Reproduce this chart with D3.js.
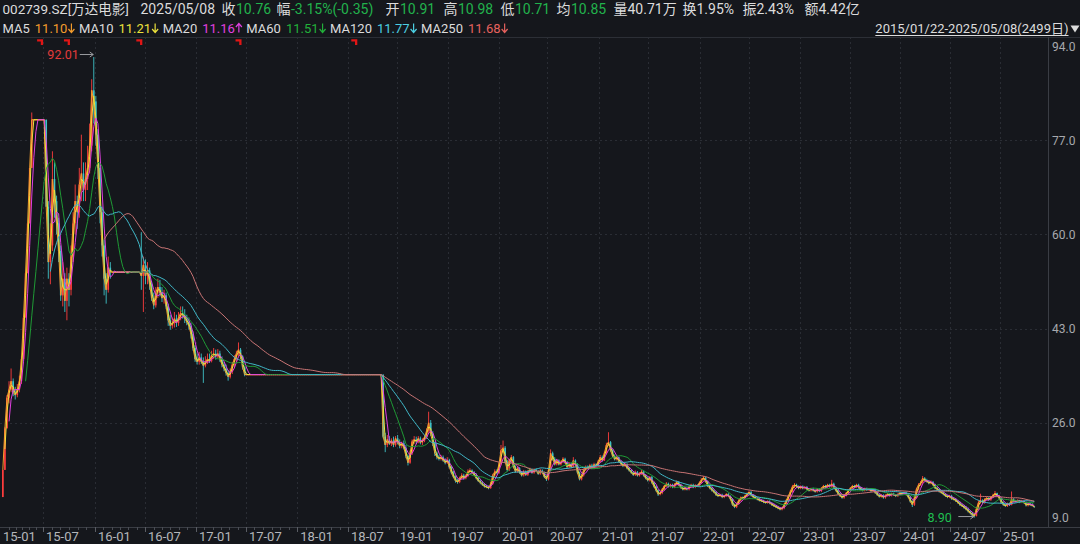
<!DOCTYPE html>
<html><head><meta charset="utf-8">
<script src="https://cdn.jsdelivr.net/npm/d3@7"></script>
<style>html,body{margin:0;padding:0;background:#15171c;overflow:hidden}svg{display:block}</style>
</head><body><svg id="c" width="1080" height="544"></svg>
<script>
// ---------- DATA (weekly candles, 5 trading days each) ----------
const opens=[
12.6,17.5,25,30.5,32,33.5,31.5,31,32,33.5,
37.5,45,53,62,72,80.7,80.7,80.7,80.7,80.7,
80.7,80.7,65,55,58,70,66,62,57,49,
52,48,52,50,56,62,66,64,69,71,
68,70,72,76,86,84,78,72,64,58,
52,50,54,53.2,53.2,53.2,53.2,53.2,53.2,53.2,
53.2,53.2,53.2,53.2,53.2,53.2,53.2,53.2,52.5,54.5,
52.5,53.5,51,48.5,47.2,49.5,50.5,49.5,48.5,49,
47,44.5,43.5,44,44.8,44,45,45.8,45.5,44.8,
44.2,43.5,42,39.5,37.5,37,37.8,37,36.3,37,
37.5,37.2,38.2,38.5,38,38.5,37.5,36.5,35.8,35,
34.3,35.2,36.5,37.5,38.5,39.2,38,36,34.7,34.7,
34.7,34.7,34.7,34.7,34.7,34.7,34.7,34.7,34.7,34.7,
34.7,34.7,34.7,34.7,34.7,34.7,34.7,34.7,34.7,34.7,
34.7,34.7,34.7,34.7,34.7,34.7,34.7,34.7,34.7,34.7,
34.7,34.7,34.7,34.7,34.7,34.7,34.7,34.7,34.7,34.7,
34.7,34.7,34.7,34.7,34.7,34.7,34.7,34.7,34.7,34.7,
34.7,34.7,34.7,34.7,34.7,34.7,34.7,34.7,34.7,34.7,
34.7,34.7,34.7,34.7,34.7,23.5,22,23,22.2,22.8,
22,23.2,22.5,21.8,22.3,21.5,20,18.8,20.5,22.6,
23,22.6,23.2,22.4,22.8,23.4,24.5,26,24,22.3,
20.5,19.8,19.5,19.8,19.2,18.8,19.3,18,17,16.2,
15.5,15.3,16,16.5,16,16.4,17.2,17.4,17,16.6,
16,15.5,15.2,14.8,14.5,14.4,14.2,15,16.5,17.2,
17,18.5,21,21.5,19,17.5,19.2,19.8,18,17.2,
17.8,17,16.5,17.2,16.6,17.2,17.6,17,17.5,17.3,
16.8,17.4,17,16.2,15.8,17.5,20.5,19.5,18.5,19.2,
18.5,18.9,19.5,18.8,18,18.6,18,19.2,18.5,17,
15.8,16.5,17.5,18,17.8,18.3,17.8,18.5,18.2,19,
19.8,19.2,20.5,22,22.5,21,20,19.4,19.8,19,
18.6,18.2,18.5,17.8,17.4,17,16.6,17.1,16.5,16.8,
17.2,16.5,16,15.6,16.2,15.2,14.5,13.8,13.1,13.3,
14,14.6,15,14.5,14.8,14.4,14.9,15.3,14.8,14.3,
14,14.2,14,14.5,14.8,14.4,14.7,14.6,15.2,15.8,
16.1,15.4,14.6,14.2,13.8,13.5,13,12.8,13,12.6,
12.8,13.1,12.8,12.2,11.2,10.8,11.4,12,12.5,12.4,
12.8,13.2,13.5,12.9,12.6,12.4,12.2,12,11.9,11.7,
11.6,11.8,11.5,11.2,11,10.8,10.6,10.4,10.6,11.3,
12,12.8,13.6,14.5,14.8,14.5,14.2,14.5,14.2,14.4,
14,13.8,14.1,13.8,13.6,14,13.7,14.2,14.6,14.4,
14.8,14.5,15,14.3,13.8,13.2,12.8,12.5,12.9,13.3,
13.8,14.2,14.6,14.4,14.8,14.3,14,13.8,14.1,13.9,
14,13.7,13.9,13.4,13,12.7,12.9,12.5,12.9,13.1,
12.9,13.2,13,12.8,13.1,13.3,13.2,13.4,13.1,12.6,
11.8,11.2,12.5,14,14.8,15.2,16,15.6,15.4,15.1,
15.3,14.8,14.2,14,13.6,13.4,13.1,12.8,12.6,12.8,
12.3,12.2,11.9,11.6,11.2,11,10.7,10.4,10,9.7,
9.4,9.2,10.5,11.6,12,11.6,12.2,12.4,12.1,12.6,
12.9,13.3,12.8,12.4,11.6,11.2,11,11.4,11.2,12.2,
11.9,11.8,12,11.7,11.9,11.6,11.1,11.4,11.2,10.91];
const highs=[
17.5,25.2,31,33.5,35.8,34,32.5,33,34.5,38,
45,53,62,72,82,80.7,80.7,80.7,80.7,80.7,
80.7,80.7,66,62,75,73,67,63,58,55,
53,54,53,58,64,69,67,72,78,73,
73,76,80,88,92.01,85,79,73,65,59,
53,56,55,53.2,53.2,53.2,53.2,53.2,53.2,53.2,
53.2,53.2,53.2,53.2,53.2,53.2,53.2,60.4,56,55.5,
55,54,51.5,49.5,50.5,52,51.8,50.5,50,49.5,
47.5,45.5,45,46,45.5,46,47,47,46.5,45.5,
45,44,42.5,40,38.5,38.8,38.5,37.8,38,38.5,
38.5,39,39.5,39.2,39.3,39,38,37,36.5,35.5,
35.8,37,38.2,39,40.5,39.5,38.2,36.2,34.7,34.7,
34.7,34.7,34.7,34.7,34.7,34.7,34.7,34.7,34.7,34.7,
34.7,34.7,34.7,34.7,34.7,34.7,34.7,34.7,34.7,34.7,
34.7,34.7,34.7,34.7,34.7,34.7,34.7,34.7,34.7,34.7,
34.7,34.7,34.7,34.7,34.7,34.7,34.7,34.7,34.7,34.7,
34.7,34.7,34.7,34.7,34.7,34.7,34.7,34.7,34.7,34.7,
34.7,34.7,34.7,34.7,34.7,34.7,34.7,34.7,34.7,34.7,
34.7,34.7,34.7,34.7,34.7,24.2,23.8,23.6,23.2,23.5,
23.6,23.8,23,22.6,22.8,22,20.3,21,23,23.6,
23.5,23.6,23.5,23.2,23.8,25,28,26.5,24.5,22.6,
20.8,20.2,20.2,20.1,19.6,19.8,19.5,18.3,17.3,16.5,
15.9,16.3,16.9,16.8,16.7,17.6,17.8,17.6,17.3,16.9,
16.3,15.8,15.5,15.1,14.8,14.7,15.3,16.8,17.6,17.6,
18.8,22,22.8,21.8,19.3,19.5,20.2,20,18.3,18.1,
18,17.3,17.5,17.4,17.5,17.9,17.8,17.8,17.8,17.5,
17.7,17.6,17.2,16.5,17.8,21.2,20.8,19.8,19.5,19.4,
19.2,19.8,19.7,19.1,18.9,18.8,19.8,19.4,18.7,17.2,
16.8,17.8,18.3,18.3,18.6,18.6,18.8,18.7,19.3,20.2,
20.1,20.8,22.4,24.3,22.7,21.2,20.3,20.1,19.9,19.3,
18.9,18.8,18.7,18,17.6,17.3,17.4,17.3,17.1,17.5,
17.4,16.7,16.3,16.4,16.4,15.4,14.7,14,13.6,14.2,
14.8,15.3,15.2,15,15,15.1,15.6,15.5,15,14.5,
14.4,14.4,14.7,15,15,14.9,14.9,15.4,16,16.4,
16.3,15.6,14.8,14.4,14,13.7,13.2,13.2,13.2,13,
13.3,13.3,12.9,12.4,11.4,11.6,12.2,12.7,12.7,13,
13.4,13.8,13.7,13.1,12.8,12.6,12.4,12.2,12.1,11.9,
12,12,11.7,11.4,11.2,11,10.8,10.8,11.5,12.2,
13,13.9,14.8,15.1,15,14.7,14.7,14.7,14.6,14.6,
14.2,14.3,14.3,14,14.2,14.2,14.4,14.8,14.8,15,
15,15.7,15.2,14.5,14,13.4,13,13.1,13.5,14,
14.4,14.8,14.8,15,15,14.5,14.2,14.3,14.3,14.2,
14.2,14.1,14.1,13.6,13.2,13.1,13.1,13.1,13.3,13.3,
13.4,13.4,13.1,13.3,13.5,13.5,13.6,13.6,13.3,12.8,
12,12.8,14.3,15.1,15.5,16.4,16.2,15.9,15.6,15.6,
15.5,15,14.4,14.2,13.8,13.6,13.3,13,13,13,
12.6,12.4,12.1,11.8,11.4,11.2,11,10.7,10.2,9.9,
9.6,10.8,12,13.2,12.2,12.4,12.7,12.6,12.8,13.2,
13.7,13.4,13,12.5,11.8,11.4,11.6,11.6,13.6,12.4,
12.1,12.2,12.1,12.1,12,11.8,11.5,11.6,11.5,10.98];
const lows=[
12.6,17.5,25,29.5,31.5,30.8,30.2,30.6,31.5,33,
37.5,45,53,62,72,80.7,80.7,80.7,80.7,80.7,
80.7,65,52,51,57,63,60,55,48,47,
46,44.5,47,49,55,60,61,63,66,66,
66,68,71,75,80,76,70,62,56,49,
47.5,49.5,52,53.2,53.2,53.2,53.2,53.2,53.2,53.2,
53.2,53.2,53.2,53.2,53.2,53.2,53.2,50,46,51,
51,50,48,46.5,46.8,48.5,48.8,47.8,47.5,46.5,
43.5,42.8,43,43.2,43.3,43.5,44.5,44.8,44,43.6,
42.8,41.2,39,37,36.5,36.5,36.6,33.2,36,36.6,
36.8,36.9,37.5,37.4,37.6,37,36,35.3,34.5,33.6,
34,34.8,36,37,38,37.5,35.6,34.4,34.7,34.7,
34.7,34.7,34.7,34.7,34.7,34.7,34.7,34.7,34.7,34.7,
34.7,34.7,34.7,34.7,34.7,34.7,34.7,34.7,34.7,34.7,
34.7,34.7,34.7,34.7,34.7,34.7,34.7,34.7,34.7,34.7,
34.7,34.7,34.7,34.7,34.7,34.7,34.7,34.7,34.7,34.7,
34.7,34.7,34.7,34.7,34.7,34.7,34.7,34.7,34.7,34.7,
34.7,34.7,34.7,34.7,34.7,34.7,34.7,34.7,34.7,34.7,
34.7,34.7,34.7,34.7,23.2,20.7,21.6,22,21.8,21.6,
21.7,22.1,21.4,21.4,21.2,19.6,18.3,18.6,20.2,22.2,
22.2,22.3,22.1,22,22.5,23.1,24.2,23.6,21.8,20,
19.4,19.2,19.2,19,18.5,18.6,17.8,16.7,16,15.2,
15,15.1,15.8,15.7,15.8,16.2,17,16.8,16.4,15.8,
15.3,14.9,14.6,14.3,14.2,14,14.1,14.8,16.2,16.7,
16.8,18.3,20.6,18.7,17.2,17.3,18.9,17.8,17,17,
16.8,16.3,16.3,16.4,16.4,17,16.8,16.8,17.1,16.6,
16.6,16.8,16,15.5,15.6,17.3,19.2,18.3,18.3,18.3,
18.3,18.7,18.6,17.8,17.8,17.8,17.9,18.3,16.8,15.6,
15.6,16.3,17.3,17.6,17.6,17.6,17.6,18,18,18.8,
19,19.1,20.3,21.8,20.8,19.8,19.2,19.2,18.8,18.4,
18,18,17.6,17.2,16.8,16.4,16.4,16.3,16.3,16.6,
16.3,15.8,15.4,15.4,15,14.3,13.6,12.8,12.9,13.1,
13.8,14.4,14.3,14.3,14.2,14.2,14.7,14.6,14.1,13.8,
13.8,13.8,13.8,14.3,14.2,14.2,14.4,14.4,15,15.6,
15.2,14.4,14,13.6,13.3,12.8,12.6,12.6,12.4,12.4,
12.6,12.6,12,11,10.6,10.6,11.2,11.8,12.2,12.2,
12.6,13,12.7,12.4,12.2,12,11.8,11.7,11.5,11.4,
11.4,11.3,11,10.8,10.6,10.4,10.2,10.2,10.4,11.1,
11.8,12.6,13.4,14.2,14.2,14,14,14,14,13.8,
13.6,13.6,13.6,13.4,13.4,13.5,13.5,14,14.2,14.2,
14.3,14.3,14.1,13.6,13,12.6,12.3,12.3,12.7,13.1,
13.6,14,14.2,14.2,14.1,13.8,13.6,13.6,13.7,13.7,
13.5,13.5,13.2,12.8,12.5,12.5,12.3,12.3,12.7,12.7,
12.7,12.8,12.6,12.6,12.9,13,13,12.9,12.4,11.6,
10.8,11,12.3,13.8,14.6,15,15.4,15.2,14.9,14.9,
14.6,14,13.8,13.4,13.2,12.9,12.6,12.4,12.4,12.1,
12,11.7,11.4,11,10.8,10.5,10.2,9.8,9.5,9.2,
8.9,9.1,10.3,11.4,11.4,11.4,12,11.9,11.9,12.4,
12.7,12.6,12.2,11.4,11,10.8,10.8,11,11.1,11.7,
11.6,11.6,11.5,11.5,11.4,10.9,10.9,11,10.9,10.71];
const closes=[
17.5,25,30.5,32,33.5,31.5,31,32,33.5,37.5,
45,53,62,72,80.7,80.7,80.7,80.7,80.7,80.7,
80.7,65,55,58,70,66,62,57,49,52,
48,52,50,56,62,66,64,69,71,68,
70,72,76,86,84,78,72,64,58,52,
50,54,53.2,53.2,53.2,53.2,53.2,53.2,53.2,53.2,
53.2,53.2,53.2,53.2,53.2,53.2,53.2,52.5,54.5,52.5,
53.5,51,48.5,47.2,49.5,50.5,49.5,48.5,49,47,
44.5,43.5,44,44.8,44,45,45.8,45.5,44.8,44.2,
43.5,42,39.5,37.5,37,37.8,37,36.3,37,37.5,
37.2,38.2,38.5,38,38.5,37.5,36.5,35.8,35,34.3,
35.2,36.5,37.5,38.5,39.2,38,36,34.7,34.7,34.7,
34.7,34.7,34.7,34.7,34.7,34.7,34.7,34.7,34.7,34.7,
34.7,34.7,34.7,34.7,34.7,34.7,34.7,34.7,34.7,34.7,
34.7,34.7,34.7,34.7,34.7,34.7,34.7,34.7,34.7,34.7,
34.7,34.7,34.7,34.7,34.7,34.7,34.7,34.7,34.7,34.7,
34.7,34.7,34.7,34.7,34.7,34.7,34.7,34.7,34.7,34.7,
34.7,34.7,34.7,34.7,34.7,34.7,34.7,34.7,34.7,34.7,
34.7,34.7,34.7,34.7,23.5,22,23,22.2,22.8,22,
23.2,22.5,21.8,22.3,21.5,20,18.8,20.5,22.6,23,
22.6,23.2,22.4,22.8,23.4,24.5,26,24,22.3,20.5,
19.8,19.5,19.8,19.2,18.8,19.3,18,17,16.2,15.5,
15.3,16,16.5,16,16.4,17.2,17.4,17,16.6,16,
15.5,15.2,14.8,14.5,14.4,14.2,15,16.5,17.2,17,
18.5,21,21.5,19,17.5,19.2,19.8,18,17.2,17.8,
17,16.5,17.2,16.6,17.2,17.6,17,17.5,17.3,16.8,
17.4,17,16.2,15.8,17.5,20.5,19.5,18.5,19.2,18.5,
18.9,19.5,18.8,18,18.6,18,19.2,18.5,17,15.8,
16.5,17.5,18,17.8,18.3,17.8,18.5,18.2,19,19.8,
19.2,20.5,22,22.5,21,20,19.4,19.8,19,18.6,
18.2,18.5,17.8,17.4,17,16.6,17.1,16.5,16.8,17.2,
16.5,16,15.6,16.2,15.2,14.5,13.8,13.1,13.3,14,
14.6,15,14.5,14.8,14.4,14.9,15.3,14.8,14.3,14,
14.2,14,14.5,14.8,14.4,14.7,14.6,15.2,15.8,16.1,
15.4,14.6,14.2,13.8,13.5,13,12.8,13,12.6,12.8,
13.1,12.8,12.2,11.2,10.8,11.4,12,12.5,12.4,12.8,
13.2,13.5,12.9,12.6,12.4,12.2,12,11.9,11.7,11.6,
11.8,11.5,11.2,11,10.8,10.6,10.4,10.6,11.3,12,
12.8,13.6,14.5,14.8,14.5,14.2,14.5,14.2,14.4,14,
13.8,14.1,13.8,13.6,14,13.7,14.2,14.6,14.4,14.8,
14.5,15,14.3,13.8,13.2,12.8,12.5,12.9,13.3,13.8,
14.2,14.6,14.4,14.8,14.3,14,13.8,14.1,13.9,14,
13.7,13.9,13.4,13,12.7,12.9,12.5,12.9,13.1,12.9,
13.2,13,12.8,13.1,13.3,13.2,13.4,13.1,12.6,11.8,
11.2,12.5,14,14.8,15.2,16,15.6,15.4,15.1,15.3,
14.8,14.2,14,13.6,13.4,13.1,12.8,12.6,12.8,12.3,
12.2,11.9,11.6,11.2,11,10.7,10.4,10,9.7,9.4,
9.2,10.5,11.6,12,11.6,12.2,12.4,12.1,12.6,12.9,
13.3,12.8,12.4,11.6,11.2,11,11.4,11.2,12.2,11.9,
11.8,12,11.7,11.9,11.6,11.1,11.4,11.2,11.1,10.76];

const totalDays=2499, daysPerCandle=5;
const tickLabels=["15-01","15-07","16-01","16-07","17-01","17-07","18-01","18-07","19-01","19-07","20-01","20-07","21-01","21-07","22-01","22-07","23-01","23-07","24-01","24-07","25-01"];
const tickDays=[0,99,225,346,469,590,714,837,955,1079,1202,1318,1444,1563,1688,1807,1930,2051,2172,2293,2414];
const priceTicks=[9,26,43,60,77,94];
const maPeriods=[5,10,20,60,120,250];
const maTextColors=["#f39c2c","#ece23c","#e040e0","#22b03a","#4ccfe2","#e5625e"];
const maLineColors=["#f39c2c","#ece23c","#e040e0","#1f9a35","#40b8c8","#c87474"];
const maValues=["11.10","11.21","11.16","11.51","11.77","11.68"];
const maTrend=["down","down","up","down","down","down"];
const flagCandles=[19,32,67,115,171];
const stockName="002739.SZ[万达电影]", quoteDate="2025/05/08";
const quoteLabels=["收","幅","开","高","低","均"];
const quoteValues=["10.76","-3.15%(-0.35)","10.91","10.98","10.71","10.85"];
const statLabels=["量","换","振","额"];
const statValues=["40.71万","1.95%","2.43%","4.42亿"];
const rangeText="2015/01/22-2025/05/08(2499日)";

// ---------- DRAW ----------
const svg=d3.select("#c");
const FONT="Roboto,'Noto Sans CJK SC',sans-serif";
const txt="#dcdcdc", green="#22b24c", up="#ff3d3d", down="#3fc3c8";
const plotTop=37, axisY=527, axisX=1048;
const x=d3.scaleLinear().domain([0,totalDays-1]).range([2,1034.7]);
const y=d3.scaleLinear().domain([9,94]).range([517,46]);
const cx=i=>x(i*daysPerCandle+2);

svg.append("rect").attr("width",1080).attr("height",544).attr("fill","#15171c");
svg.append("defs").append("clipPath").attr("id","clip").append("rect")
  .attr("x",0).attr("y",plotTop+1).attr("width",axisX).attr("height",axisY-plotTop-1);

// grid
svg.append("g").selectAll("line").data(priceTicks.slice(1,-1)).join("line")
  .attr("x1",0).attr("x2",axisX).attr("y1",d=>Math.round(y(d))+0.5).attr("y2",d=>Math.round(y(d))+0.5)
  .attr("stroke","#2a2d34").attr("stroke-dasharray","2,3");
svg.append("g").selectAll("line").data(tickDays.slice(1)).join("line")
  .attr("x1",d=>Math.round(x(d))+0.5).attr("x2",d=>Math.round(x(d))+0.5).attr("y1",plotTop).attr("y2",axisY)
  .attr("stroke","#2a2d34").attr("stroke-dasharray","2,3");

// frame lines
svg.append("line").attr("x1",0).attr("x2",1080).attr("y1",plotTop+0.5).attr("y2",plotTop+0.5).attr("stroke","#2c2f36");
svg.append("line").attr("x1",0).attr("x2",1080).attr("y1",axisY+0.5).attr("y2",axisY+0.5).attr("stroke","#3a3d44");
svg.append("line").attr("x1",axisX+0.5).attr("x2",axisX+0.5).attr("y1",plotTop).attr("y2",axisY).attr("stroke","#3a3d44");

// y labels
svg.append("g").selectAll("text").data(priceTicks).join("text")
  .attr("x",axisX+4).attr("y",d=>y(d)+4.5).text(d=>d.toFixed(1))
  .attr("font-family",FONT).attr("font-size",12).attr("fill","#a7a9ad");

// x ticks & labels
const monthTicks=[];
for(let k=0;k<tickDays.length-1;k++){for(let m=1;m<6;m++){monthTicks.push(tickDays[k]+(tickDays[k+1]-tickDays[k])*m/6);}}
svg.append("g").selectAll("line").data(monthTicks).join("line")
  .attr("x1",d=>Math.round(x(d))+0.5).attr("x2",d=>Math.round(x(d))+0.5).attr("y1",axisY).attr("y2",axisY+3)
  .attr("stroke","#4a4d54");
svg.append("g").selectAll("line").data(tickDays.slice(1)).join("line")
  .attr("x1",d=>Math.round(x(d))+0.5).attr("x2",d=>Math.round(x(d))+0.5).attr("y1",axisY).attr("y2",axisY+5)
  .attr("stroke","#5a5d64");
svg.append("g").selectAll("text").data(tickDays).join("text")
  .attr("x",(d,i)=>i===0?3:x(d)+3).attr("y",541).text((d,i)=>tickLabels[i])
  .attr("font-family",FONT).attr("font-size",13).attr("fill","#b4b6ba");

// candles
const candles=closes.map((c,i)=>({i,o:opens[i],h:highs[i],l:lows[i],c}));
const col=d=>d.c>=d.o?up:down;
const cg=svg.append("g").attr("clip-path","url(#clip)");
cg.selectAll("line.w").data(candles).join("line").attr("class","w")
  .attr("x1",d=>cx(d.i)).attr("x2",d=>cx(d.i))
  .attr("y1",d=>y(Math.max(d.h,d.o,d.c))).attr("y2",d=>y(Math.min(d.l,d.o,d.c)))
  .attr("stroke",col).attr("stroke-width",0.9);
cg.selectAll("rect.b").data(candles).join("rect").attr("class","b")
  .attr("x",d=>cx(d.i)-0.8).attr("width",1.6)
  .attr("y",d=>y(Math.max(d.o,d.c)))
  .attr("height",d=>Math.max(0.8,y(Math.min(d.o,d.c))-y(Math.max(d.o,d.c))))
  .attr("fill",col);

// moving averages (periods in trading days -> candles)
maPeriods.forEach((p,k)=>{
  const w=Math.round(p/daysPerCandle);
  const vals=closes.map((c,i)=>i<w-1?null:d3.mean(closes.slice(i-w+1,i+1)));
  cg.append("path").datum(vals)
    .attr("d",d3.line().defined(v=>v!=null).x((v,i)=>cx(i)).y(v=>y(v)))
    .attr("fill","none").attr("stroke",maLineColors[k]).attr("stroke-width",1);
});

// flags
svg.append("g").selectAll("path").data(flagCandles).join("path")
  .attr("d",i=>{const r=cx(i)+1;return `M${r-6},39.3h6v5.8h-2.3v-3.5h-3.7z`;})
  .attr("fill","#e01616");

// max / min annotations
const iMax=d3.maxIndex(highs), iMin=d3.minIndex(lows);
const ax=cx(iMax), ay=y(highs[iMax])-2.5;
svg.append("text").attr("x",ax-15).attr("y",ay+4.8).attr("text-anchor","end")
  .text(highs[iMax].toFixed(2)).attr("font-family",FONT).attr("font-size",12.5).attr("fill","#e23b3b");
svg.append("path").attr("d",`M${ax-14},${ay}H${ax-0.5}M${ax-4},${ay-2.5}L${ax-0.5},${ay}L${ax-4},${ay+2.5}`)
  .attr("stroke","#9a9ca0").attr("fill","none");
const bx=cx(iMin), by=y(lows[iMin])-1;
svg.append("text").attr("x",bx-22.5).attr("y",by+5).attr("text-anchor","end")
  .text(lows[iMin].toFixed(2)).attr("font-family",FONT).attr("font-size",12.5).attr("fill","#1fbf50");
svg.append("path").attr("d",`M${bx-16},${by}H${bx-0.5}M${bx-4},${by-2.5}L${bx-0.5},${by}L${bx-4},${by+2.5}`)
  .attr("stroke","#9a9ca0").attr("fill","none");

// header row 1
function put(xp,yp,s,c,size){return svg.append("text").attr("x",xp).attr("y",yp).text(s)
  .attr("font-family",FONT).attr("font-size",size||14).attr("fill",c);}
const R1=13.5;
put(2.5,R1,stockName,txt,13.5);
put(140.5,R1,quoteDate,txt);
const qx=[221.5,276.5,385.5,443.5,500.5,556.5];
quoteLabels.forEach((l,k)=>{const t=put(qx[k],R1,l,txt);const w=t.node().getComputedTextLength();
  put(qx[k]+w+0.5,R1,quoteValues[k],green);});
const sx=[613.5,682.5,742.5,804.5];
statLabels.forEach((l,k)=>put(sx[k],R1,l+statValues[k],txt));

// header row 2 (MA legend, flowing left to right)
let fx=2.5;
maPeriods.forEach((p,k)=>{
  const a=put(fx,33,"MA"+p,txt,13); fx+=a.node().getComputedTextLength()+5;
  const t=put(fx,33,maValues[k],maTextColors[k],13); fx+=t.node().getComputedTextLength()+1;
  const c=fx+3, dn=maTrend[k]==="down";
  svg.append("path").attr("d",dn?`M${c},23.5V32.5M${c-3},29L${c},32.5L${c+3},29`:`M${c},32.5V23.5M${c-3},27L${c},23.5L${c+3},27`)
    .attr("stroke",maTextColors[k]).attr("stroke-width",1.2).attr("fill","none");
  fx+=7+3.5;
});

// date range
const rt=svg.append("text").attr("x",1068.5).attr("y",33).attr("text-anchor","end").text(rangeText)
  .attr("font-family",FONT).attr("font-size",13).attr("fill",txt);
const rw=rt.node().getComputedTextLength();
svg.append("line").attr("x1",1068.5-rw).attr("x2",1068.5).attr("y1",35.5).attr("y2",35.5).attr("stroke",txt);
svg.append("path").attr("d","M1070.5,25.5L1079.5,25.5L1075,32.5Z").attr("fill",txt);

if(![opens,highs,lows].every(a=>a.length===closes.length)||closes.length!==500){
  put(400,300,"LEN "+[opens.length,highs.length,lows.length,closes.length].join(","),"#fff",20);
}
</script></body></html>
